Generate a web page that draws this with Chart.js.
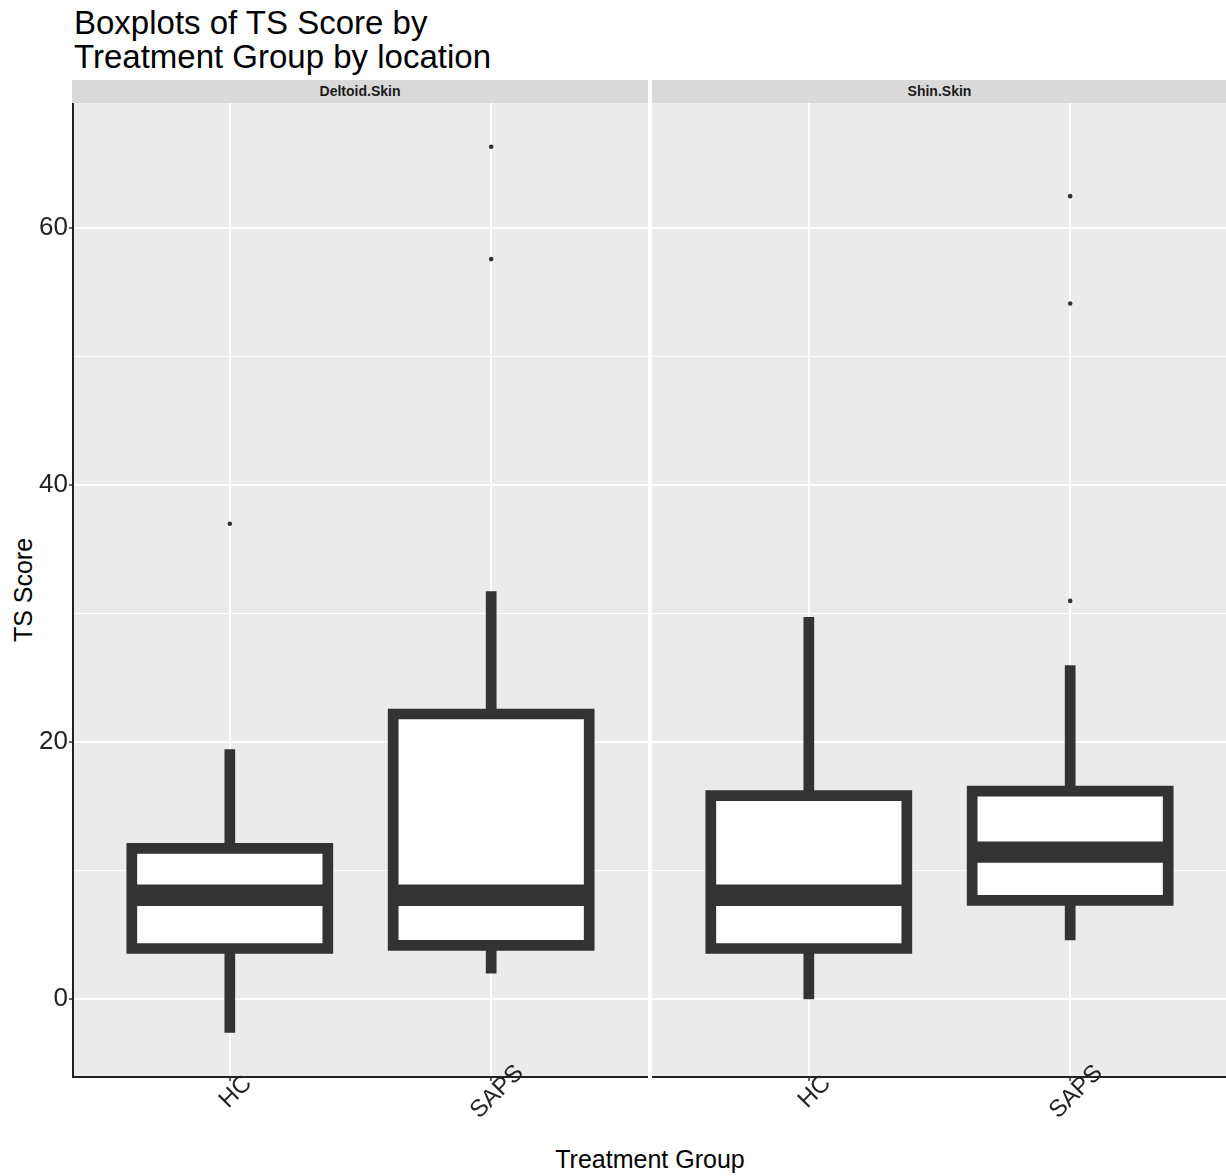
<!DOCTYPE html>
<html>
<head>
<meta charset="utf-8">
<title>Boxplots of TS Score by Treatment Group by location</title>
<script src="https://cdn.jsdelivr.net/npm/chart.js@4/dist/chart.umd.min.js"></script>
<style>
  html, body { margin: 0; padding: 0; background: #fff; overflow: hidden; }
  body { width: 1226px; height: 1176px; position: relative; font-family: "Liberation Sans", Arial, sans-serif; }
  .title { position: absolute; left: 74px; top: 6px; font-size: 33px; line-height: 34px; color: #000; white-space: nowrap; }
  .strip { position: absolute; top: 80px; height: 23px; background: #D9D9D9; color: #1A1A1A;
           font-size: 14px; font-weight: bold; line-height: 23px; text-align: center; }
  .ytitle { position: absolute; left: 23px; top: 590px; font-size: 25px; line-height: 25px; color: #000;
            white-space: nowrap; transform: translate(-50%, -50%) rotate(-90deg); }
  .xtitle { position: absolute; left: 650px; top: 1147px; font-size: 25px; line-height: 25px; color: #000;
            white-space: nowrap; transform: translateX(-50%); }
  canvas { position: absolute; top: 103px; }
</style>
</head>
<body>
<div class="title">Boxplots of TS Score by<br>Treatment Group by location</div>
<div class="strip" id="strip0" style="left:72px; width:576px;"></div>
<div class="strip" id="strip1" style="left:652px; width:575px;"></div>
<div class="ytitle">TS Score</div>
<div class="xtitle">Treatment Group</div>
<canvas id="panel0" width="648" height="1073" style="left:0px;"></canvas>
<canvas id="panel1" width="575" height="1073" style="left:652px;"></canvas>

<script>
// Facets and treatment groups
const locations = ['Deltoid.Skin', 'Shin.Skin'];
const groups = ['HC', 'SAPS'];

// Deltoid.Skin box statistics, one entry per group
const deltoidLow = [-2.6, 2.0];
const deltoidQ1 = [3.95, 4.2];
const deltoidMedian = [8.1, 8.1];
const deltoidQ3 = [11.75, 22.2];
const deltoidHigh = [19.45, 31.75];
const deltoidOutliers = [[37.0], [57.6, 66.35]];

// Shin.Skin box statistics, one entry per group
const shinLow = [0.0, 4.6];
const shinQ1 = [3.95, 7.7];
const shinMedian = [8.1, 11.45];
const shinQ3 = [15.85, 16.2];
const shinHigh = [29.75, 26.0];
const shinOutliers = [[], [31.0, 54.15, 62.5]];

// Y axis: labelled ticks and minor grid
const yLabelTicks = [0, 20, 40, 60];
const yGridTicks = [0, 10, 20, 30, 40, 50, 60];
const yMin = -6.05;
const yMax = 69.75;

const INK = '#333333';
const FONT = '"Liberation Sans", Arial, sans-serif';
Chart.defaults.font.family = FONT;

const panels = [
  { low: deltoidLow, q1: deltoidQ1, median: deltoidMedian, q3: deltoidQ3, high: deltoidHigh, outliers: deltoidOutliers },
  { low: shinLow, q1: shinQ1, median: shinMedian, q3: shinQ3, high: shinHigh, outliers: shinOutliers }
];

// Drop the extra room Chart.js keeps for edge tick labels
function noScalePadding(scale) {
  scale.paddingTop = 0;
  scale.paddingBottom = 0;
  scale.paddingLeft = 0;
  scale.paddingRight = 0;
}

// Grey panel background
const panelBackground = {
  id: 'panelBackground',
  beforeDraw(chart) {
    const { ctx, chartArea: a } = chart;
    ctx.save();
    ctx.fillStyle = '#EBEBEB';
    ctx.fillRect(a.left, a.top, a.right - a.left, a.bottom - a.top);
    ctx.restore();
  }
};

// Box, whiskers and median for each group, placed through the chart scales
const boxes = {
  id: 'boxes',
  beforeDatasetsDraw(chart, args, opts) {
    const s = opts.stats;
    if (!s) return;
    const { ctx } = chart;
    const xs = chart.scales.x, ys = chart.scales.y;
    const lw = 10.7;
    ctx.save();
    ctx.strokeStyle = INK;
    ctx.lineCap = 'butt';
    ctx.lineJoin = 'miter';
    for (let i = 0; i < groups.length; i++) {
      const xc = xs.getPixelForValue(i + 1);
      const half = xs.getPixelForValue(i + 1 + 0.375) - xc;
      const yLow = ys.getPixelForValue(s.low[i]);
      const yQ1 = ys.getPixelForValue(s.q1[i]);
      const yMed = ys.getPixelForValue(s.median[i]);
      const yQ3 = ys.getPixelForValue(s.q3[i]);
      const yHigh = ys.getPixelForValue(s.high[i]);
      // whiskers
      ctx.lineWidth = lw;
      ctx.beginPath();
      ctx.moveTo(xc, yHigh); ctx.lineTo(xc, yQ3);
      ctx.moveTo(xc, yQ1); ctx.lineTo(xc, yLow);
      ctx.stroke();
      // box
      ctx.fillStyle = '#FFFFFF';
      ctx.beginPath();
      ctx.rect(xc - half, yQ3, 2 * half, yQ1 - yQ3);
      ctx.fill();
      ctx.stroke();
      // median
      ctx.lineWidth = lw * 2;
      ctx.beginPath();
      ctx.moveTo(xc - half, yMed); ctx.lineTo(xc + half, yMed);
      ctx.stroke();
    }
    ctx.restore();
  }
};

// Rotated group names under each panel
const groupLabels = {
  id: 'groupLabels',
  afterDraw(chart) {
    const { ctx, chartArea: a } = chart;
    const xs = chart.scales.x;
    ctx.save();
    ctx.font = '24px ' + FONT;
    ctx.fillStyle = '#222222';
    ctx.textAlign = 'center';
    ctx.textBaseline = 'middle';
    groups.forEach((g, i) => {
      const px = xs.getPixelForValue(i + 1);
      ctx.save();
      ctx.translate(px + 6, a.bottom + 15);
      ctx.rotate(-Math.PI / 4);
      ctx.fillText(g, 0, 0);
      ctx.restore();
    });
    ctx.restore();
  }
};

function makePanel(canvasId, idx, showYAxis) {
  const p = panels[idx];
  const points = [];
  p.outliers.forEach((list, i) => list.forEach(v => points.push({ x: i + 1, y: v })));

  return new Chart(document.getElementById(canvasId), {
    type: 'scatter',
    data: {
      datasets: [{
        data: points,
        pointRadius: 2.3,
        pointBackgroundColor: INK,
        pointBorderWidth: 0,
        pointHoverRadius: 2.3
      }]
    },
    plugins: [panelBackground, boxes, groupLabels],
    options: {
      responsive: false,
      animation: false,
      events: [],
      layout: { padding: 0, autoPadding: false },
      plugins: {
        legend: { display: false },
        tooltip: { enabled: false },
        boxes: { stats: p }
      },
      scales: {
        x: {
          type: 'linear',
          min: 0.4,
          max: 2.6,
          afterBuildTicks(scale) { scale.ticks = groups.map((g, i) => ({ value: i + 1 })); },
          afterFit(scale) { scale.height = 99; noScalePadding(scale); },
          ticks: { display: false },
          grid: { color: '#FFFFFF', lineWidth: 2, drawTicks: true, tickLength: 4, tickColor: INK, tickWidth: 1.5 },
          border: { display: true, color: '#222222', width: 2 }
        },
        y: {
          type: 'linear',
          min: yMin,
          max: yMax,
          afterBuildTicks(scale) { scale.ticks = yGridTicks.map(v => ({ value: v })); },
          afterFit(scale) { scale.width = showYAxis ? 73 : 0; noScalePadding(scale); },
          ticks: {
            display: showYAxis,
            padding: 1,
            color: '#222222',
            font: { size: 26, family: FONT },
            callback: v => (yLabelTicks.includes(v) ? String(v) : '')
          },
          grid: {
            color: '#FFFFFF',
            lineWidth: ctx => (yLabelTicks.includes(ctx.tick.value) ? 2 : 1),
            drawTicks: showYAxis,
            tickLength: 4,
            tickWidth: 1.5,
            tickColor: ctx => (yLabelTicks.includes(ctx.tick.value) ? INK : 'rgba(0,0,0,0)')
          },
          border: { display: showYAxis, color: '#222222', width: 2 }
        }
      }
    }
  });
}

document.getElementById('strip0').textContent = locations[0];
document.getElementById('strip1').textContent = locations[1];
makePanel('panel0', 0, true);
makePanel('panel1', 1, false);
</script>
</body>
</html>
